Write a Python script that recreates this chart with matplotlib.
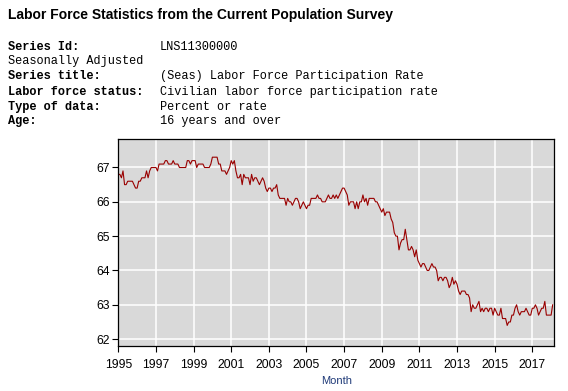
import numpy as np
import matplotlib.pyplot as plt

# monthly labor force participation rate, Jan 1995 - Feb 2018
rate_1995 = [66.8, 66.8, 66.7, 66.9, 66.5, 66.5, 66.6, 66.6, 66.6, 66.6, 66.5, 66.4]
rate_1996 = [66.4, 66.6, 66.6, 66.7, 66.7, 66.7, 66.9, 66.7, 66.9, 67.0, 67.0, 67.0]
rate_1997 = [67.0, 66.9, 67.1, 67.1, 67.1, 67.1, 67.2, 67.2, 67.1, 67.1, 67.1, 67.2]
rate_1998 = [67.1, 67.1, 67.1, 67.0, 67.0, 67.0, 67.0, 67.0, 67.2, 67.2, 67.1, 67.2]
rate_1999 = [67.2, 67.2, 67.0, 67.1, 67.1, 67.1, 67.1, 67.0, 67.0, 67.0, 67.0, 67.1]
rate_2000 = [67.3, 67.3, 67.3, 67.3, 67.1, 67.1, 66.9, 66.9, 66.9, 66.8, 66.9, 67.0]
rate_2001 = [67.2, 67.1, 67.2, 66.9, 66.7, 66.7, 66.8, 66.5, 66.8, 66.7, 66.7, 66.7]
rate_2002 = [66.5, 66.8, 66.6, 66.7, 66.7, 66.6, 66.5, 66.6, 66.7, 66.6, 66.4, 66.3]
rate_2003 = [66.4, 66.4, 66.3, 66.4, 66.4, 66.5, 66.2, 66.1, 66.1, 66.1, 66.1, 65.9]
rate_2004 = [66.1, 66.0, 66.0, 65.9, 66.0, 66.1, 66.1, 66.0, 65.8, 65.9, 66.0, 65.9]
rate_2005 = [65.8, 65.9, 65.9, 66.1, 66.1, 66.1, 66.1, 66.2, 66.1, 66.1, 66.0, 66.0]
rate_2006 = [66.0, 66.1, 66.2, 66.1, 66.1, 66.2, 66.1, 66.2, 66.1, 66.2, 66.3, 66.4]
rate_2007 = [66.4, 66.3, 66.2, 65.9, 66.0, 66.0, 66.0, 65.8, 66.0, 65.8, 66.0, 66.0]
rate_2008 = [66.2, 66.0, 66.1, 65.9, 66.1, 66.1, 66.1, 66.1, 66.0, 66.0, 65.9, 65.8]
rate_2009 = [65.7, 65.8, 65.6, 65.7, 65.7, 65.7, 65.5, 65.4, 65.1, 65.0, 65.0, 64.6]
rate_2010 = [64.8, 64.9, 64.9, 65.2, 64.9, 64.6, 64.6, 64.7, 64.6, 64.4, 64.6, 64.3]
rate_2011 = [64.2, 64.1, 64.2, 64.2, 64.1, 64.0, 64.0, 64.1, 64.2, 64.1, 64.1, 64.0]
rate_2012 = [63.7, 63.8, 63.8, 63.7, 63.8, 63.8, 63.7, 63.5, 63.6, 63.8, 63.6, 63.7]
rate_2013 = [63.6, 63.4, 63.3, 63.4, 63.4, 63.4, 63.3, 63.3, 63.2, 62.8, 63.0, 62.9]
rate_2014 = [62.9, 63.0, 63.1, 62.8, 62.9, 62.8, 62.9, 62.9, 62.8, 62.9, 62.9, 62.7]
rate_2015 = [62.9, 62.8, 62.7, 62.7, 62.9, 62.6, 62.6, 62.6, 62.4, 62.5, 62.5, 62.7]
rate_2016 = [62.7, 62.9, 63.0, 62.8, 62.7, 62.8, 62.8, 62.8, 62.9, 62.8, 62.7, 62.7]
rate_2017 = [62.9, 62.9, 63.0, 62.9, 62.7, 62.8, 62.9, 62.9, 63.1, 62.7, 62.7, 62.7]
rate_2018 = [62.7, 63.0]

rate = (rate_1995 + rate_1996 + rate_1997 + rate_1998 + rate_1999 + rate_2000
        + rate_2001 + rate_2002 + rate_2003 + rate_2004 + rate_2005 + rate_2006
        + rate_2007 + rate_2008 + rate_2009 + rate_2010 + rate_2011 + rate_2012
        + rate_2013 + rate_2014 + rate_2015 + rate_2016 + rate_2017 + rate_2018)
months = 1995 + np.arange(len(rate)) / 12.0

year_ticks = list(range(1995, 2018, 2))
y_ticks = [62, 63, 64, 65, 66, 67]

header_labels = ['Series Id:', 'Seasonally Adjusted', 'Series title:',
                 'Labor force status:', 'Type of data:', 'Age:']
header_values = ['LNS11300000', '', '(Seas) Labor Force Participation Rate',
                 'Civilian labor force participation rate', 'Percent or rate',
                 '16 years and over']

fig = plt.figure(figsize=(5.68, 3.91), dpi=100)

# header text
fig.text(8 / 568, 1 - 15 / 391, 'Labor Force Statistics from the Current Population Survey',
         family='Liberation Sans', weight='bold', fontsize=10.0, va='center', ha='left')
row_y = [47, 61, 76, 92, 107, 121]
for lab, val, y in zip(header_labels, header_values, row_y):
    w = 'normal' if lab == 'Seasonally Adjusted' else 'bold'
    fig.text(8 / 568, 1 - y / 391, lab, family='Liberation Mono', weight=w,
             fontsize=8.6, va='center', ha='left')
    fig.text(160 / 568, 1 - y / 391, val, family='Liberation Mono',
             fontsize=8.6, va='center', ha='left')

ax = fig.add_axes([118.3 / 568, 1 - 346 / 391, 436 / 568, 207 / 391])
ax.set_facecolor('#d9d9d9')
ax.plot(months, rate, color='#990000', linewidth=0.8)
ax.set_xlim(1995, 2018.17)
ax.set_ylim(61.8, 67.83)
ax.set_xticks(year_ticks)
ax.set_yticks(y_ticks)
ax.grid(color='white', linewidth=1.1)
ax.set_axisbelow(True)
for s in ax.spines.values():
    s.set_color('black')
    s.set_linewidth(0.9)
ax.tick_params(labelsize=8.8, length=4, width=0.8)
ax.tick_params(axis='x', pad=5)
ax.tick_params(axis='y', pad=2)
for t in ax.get_xticklabels() + ax.get_yticklabels():
    t.set_family('Liberation Sans')
ax.set_xlabel('Month', color='#1f3a78', fontsize=8, family='Liberation Sans', labelpad=4)

fig.savefig('out.png', dpi=100)
